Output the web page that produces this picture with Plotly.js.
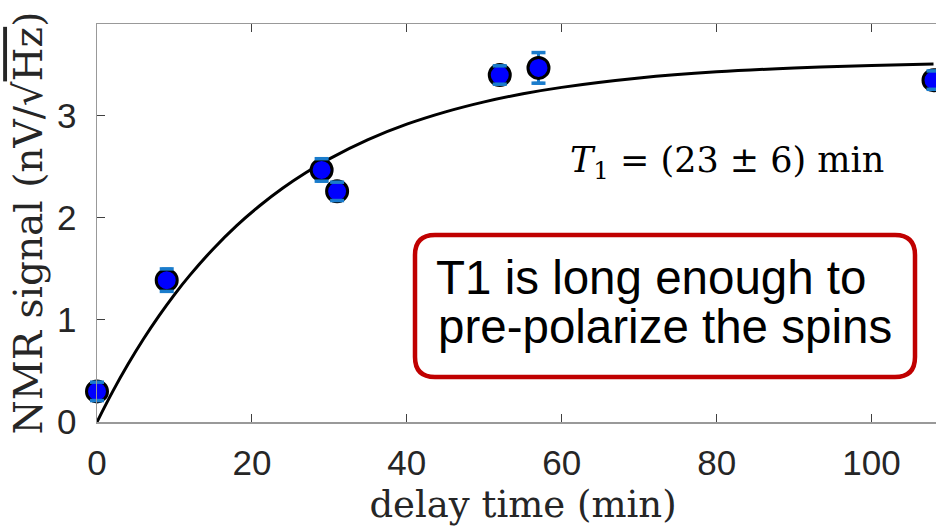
<!DOCTYPE html>
<html>
<head>
<meta charset="utf-8">
<script src="https://cdn.plot.ly/plotly-3.0.1.min.js"></script>
<style>
  html, body { margin: 0; padding: 0; overflow: hidden; background: #fff; }
  #chart { width: 960px; height: 529px; }
</style>
</head>
<body>
<div id="chart"></div>
<script>
// ---- Data ----
const delayTime = [0, 9, 29, 31, 52, 57, 108];          // min
const nmrSignal = [0.30, 1.39, 2.47, 2.26, 3.40, 3.47, 3.35]; // nV/sqrt(Hz)
const nmrError  = [0.09, 0.11, 0.11, 0.09, 0.09, 0.15, 0.09];

const fitTime   = [0, 2, 4, 6, 8, 10, 12, 15, 18, 21, 24, 27, 30, 35, 40, 45, 50, 55, 60, 70, 80, 90, 100, 108];
const fitSignal = [0, 0.295, 0.565, 0.813, 1.040, 1.249, 1.439, 1.696, 1.922, 2.119, 2.293, 2.445, 2.579,
                   2.767, 2.918, 3.039, 3.137, 3.216, 3.279, 3.371, 3.431, 3.469, 3.494, 3.508];

const xTicks = [0, 20, 40, 60, 80, 100];
const yTicks = [0, 1, 2, 3];

// ---- Layout geometry ----
const W = 960, H = 529;
const mL = 97, mT = 24, mB = 107, mR = 11;
const xRange = [0, 110], yRange = [0, 3.9];
const plotW = W - mL - mR, plotH = H - mT - mB;
const px2x = p => xRange[0] + (p - mL) / plotW * (xRange[1] - xRange[0]);
const py2y = p => yRange[0] + (H - mB - p) / plotH * (yRange[1] - yRange[0]);

function roundedRectPath(x0, y0, x1, y1, r) {
  const X = p => px2x(p).toFixed(4), Y = p => py2y(p).toFixed(4);
  return 'M' + X(x0 + r) + ',' + Y(y0) +
    ' L' + X(x1 - r) + ',' + Y(y0) +
    ' Q' + X(x1) + ',' + Y(y0) + ' ' + X(x1) + ',' + Y(y0 + r) +
    ' L' + X(x1) + ',' + Y(y1 - r) +
    ' Q' + X(x1) + ',' + Y(y1) + ' ' + X(x1 - r) + ',' + Y(y1) +
    ' L' + X(x0 + r) + ',' + Y(y1) +
    ' Q' + X(x0) + ',' + Y(y1) + ' ' + X(x0) + ',' + Y(y1 - r) +
    ' L' + X(x0) + ',' + Y(y0 + r) +
    ' Q' + X(x0) + ',' + Y(y0) + ' ' + X(x0 + r) + ',' + Y(y0) + ' Z';
}

const errColor = '#1a7ccc';
const capX = delayTime.concat(delayTime);
const capY = nmrSignal.map((v, i) => v + nmrError[i]).concat(nmrSignal.map((v, i) => v - nmrError[i]));

const traces = [
  {
    x: fitTime, y: fitSignal, type: 'scatter', mode: 'lines',
    line: { color: '#000000', width: 3, shape: 'spline' },
    hoverinfo: 'skip', showlegend: false
  },
  {
    x: delayTime, y: nmrSignal, type: 'scatter', mode: 'markers',
    marker: { color: '#0000ff', size: 21, line: { color: '#000000', width: 3 } },
    error_y: { type: 'data', array: nmrError, visible: true, color: errColor, thickness: 3, width: 5 },
    cliponaxis: false, showlegend: false
  },
  {
    x: capX, y: capY, type: 'scatter', mode: 'markers',
    marker: { symbol: 'line-ew', size: 10, color: errColor, line: { color: errColor, width: 3.5 } },
    cliponaxis: false, hoverinfo: 'skip', showlegend: false
  }
];

const serif = 'DejaVu Serif, Liberation Serif, serif';
const layout = {
  width: W, height: H,
  margin: { l: mL, r: mR, t: mT, b: mB, pad: 0 },
  paper_bgcolor: '#ffffff', plot_bgcolor: '#ffffff',
  showlegend: false,
  xaxis: {
    range: xRange, tickvals: xTicks, ticktext: xTicks.map(String),
    ticks: 'inside', ticklen: 8, tickwidth: 1, tickcolor: '#404040',
    showline: true, linecolor: '#999999', linewidth: 1.5, mirror: 'ticks',
    showgrid: false, zeroline: false,
    tickfont: { family: 'Liberation Sans, Arial, sans-serif', size: 35, color: '#262626' },
    ticklabelstandoff: 9,
    title: { text: 'delay time (min)', font: { family: serif, size: 37, color: '#262626' }, standoff: 10 },
    automargin: false
  },
  yaxis: {
    range: yRange, tickvals: yTicks, ticktext: yTicks.map(String),
    ticks: 'inside', ticklen: 8, tickwidth: 1, tickcolor: '#404040',
    showline: true, linecolor: '#999999', linewidth: 1.5, mirror: 'ticks',
    showgrid: false, zeroline: false,
    tickfont: { family: 'Liberation Sans, Arial, sans-serif', size: 35, color: '#262626' },
    ticklabelstandoff: 12,
    title: { text: 'NMR signal (nV/√<span style="text-decoration:overline">Hz</span>)',
             font: { family: serif, size: 39, color: '#262626' }, standoff: 2 },
    automargin: false
  },
  shapes: [
    {
      type: 'path', xref: 'x', yref: 'y', layer: 'above',
      path: roundedRectPath(415, 235, 915, 377, 20),
      fillcolor: '#ffffff', line: { color: '#c00000', width: 4.5 }
    }
  ],
  annotations: [
    {
      x: px2x(568), y: py2y(162), xref: 'x', yref: 'y', xanchor: 'left', yanchor: 'middle',
      text: '<i>T</i><sub>1</sub> = (23 ± 6) min', showarrow: false,
      font: { family: serif, size: 35, color: '#000000' }
    },
    {
      x: px2x(434), y: py2y(277), xref: 'x', yref: 'y', xanchor: 'left', yanchor: 'middle',
      text: 'T1 is long enough to', showarrow: false,
      font: { family: 'Liberation Sans, Arial, sans-serif', size: 47.5, color: '#000000' }
    },
    {
      x: px2x(436), y: py2y(326), xref: 'x', yref: 'y', xanchor: 'left', yanchor: 'middle',
      text: 'pre-polarize the spins', showarrow: false,
      font: { family: 'Liberation Sans, Arial, sans-serif', size: 47.5, color: '#000000' }
    }
  ]
};

Plotly.newPlot('chart', traces, layout, { staticPlot: true, displayModeBar: false });
</script>
</body>
</html>
